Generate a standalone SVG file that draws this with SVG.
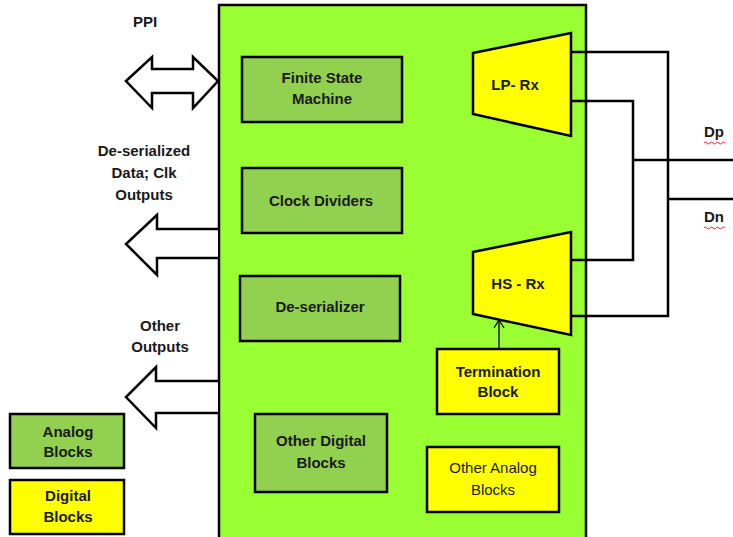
<svg xmlns="http://www.w3.org/2000/svg" width="733" height="537" viewBox="0 0 733 537">
<style>
text{font-family:"Liberation Sans",Arial,sans-serif;font-weight:bold;font-size:15px;fill:#1a1a1a;text-anchor:middle;dominant-baseline:middle}
.box{stroke:#000;stroke-width:2.5}
.an{fill:#92D050}
.dg{fill:#FFFF00}
.w{fill:none;stroke:#000;stroke-width:2.5}
.ar{fill:#fff;stroke:#000;stroke-width:2.5;stroke-linejoin:miter}
.sq{fill:none;stroke:#e03030;stroke-width:1}
</style>
<defs>
<marker id="ah" markerWidth="10" markerHeight="12" refX="9" refY="6" orient="auto" markerUnits="userSpaceOnUse" viewBox="0 0 10 12">
<path d="M1,1 L9,6 L1,11" fill="none" stroke="#000" stroke-width="1.3"/>
</marker>
</defs>
<rect width="733" height="537" fill="#fff"/>
<g id="chip"><rect class="box" x="219" y="5" width="367" height="545" fill="#99FF33"/></g>
<g id="connectors">
<path class="w" d="M571,52 H668 V316 H571"/>
<path class="w" d="M571,101 H633 V260 H571"/>
<path class="w" d="M633,160 H733"/>
<path class="w" d="M668,199 H733"/>
<line x1="499" y1="349" x2="499" y2="320" stroke="#000" stroke-width="1.3" marker-end="url(#ah)"/>
</g>
<g id="ppi">
<path class="ar" d="M126,81 L152,57 L152,69 L193,69 L193,57 L218,81 L193,108 L193,93 L152,93 L152,108 Z"/>
<text x="145" y="23">PPI</text>
</g>
<g id="deser-out">
<path class="ar" d="M218,229 L157,229 L157,215 L126,244 L157,275 L157,258 L218,258"/>
<text x="144" y="152">De-serialized</text>
<text x="144" y="174">Data; Clk</text>
<text x="144" y="196">Outputs</text>
</g>
<g id="other-out">
<path class="ar" d="M218,381 L156,381 L156,367 L126,397 L156,428 L156,413 L218,413"/>
<text x="160" y="327">Other</text>
<text x="160" y="348">Outputs</text>
</g>
<g id="fsm"><rect class="box an" x="242" y="57" width="160" height="65"/><text x="322" y="79">Finite State</text><text x="322" y="100">Machine</text></g>
<g id="clkdiv"><rect class="box an" x="242" y="168" width="160" height="65"/><text x="321" y="202">Clock Dividers</text></g>
<g id="deser"><rect class="box an" x="240" y="276" width="160" height="65"/><text x="320" y="308">De-serializer</text></g>
<g id="otherdig"><rect class="box an" x="255" y="414" width="132" height="78"/><text x="321" y="442">Other Digital</text><text x="321" y="464">Blocks</text></g>
<g id="lprx"><path class="box dg" d="M473,53 L571,33 L571,136 L473,114 Z"/><text x="515" y="86">LP- Rx</text></g>
<g id="hsrx"><path class="box dg" d="M473,252 L571,232 L571,335 L473,314 Z"/><text x="518" y="285">HS - Rx</text></g>
<g id="term"><rect class="box dg" x="437" y="349" width="122" height="65"/><text x="498" y="373">Termination</text><text x="498" y="393">Block</text></g>
<g id="otheranalog"><rect class="box dg" x="427" y="447" width="132" height="65"/><text x="493" y="469" style="font-weight:normal">Other Analog</text><text x="493" y="491" style="font-weight:normal">Blocks</text></g>
<g id="legend-analog"><rect class="box an" x="10" y="414" width="114" height="54"/><text x="68" y="433">Analog</text><text x="68" y="453">Blocks</text></g>
<g id="legend-digital"><rect class="box dg" x="10" y="480" width="114" height="54"/><text x="68" y="497">Digital</text><text x="68" y="518">Blocks</text></g>
<g id="dp"><text x="714" y="133">Dp</text><path class="sq" d="M704,143 q1.5,-2 3,0 t3,0 t3,0 t3,0 t3,0 t3,0 t3,0"/></g>
<g id="dn"><text x="714" y="218">Dn</text><path class="sq" d="M704,228 q1.5,-2 3,0 t3,0 t3,0 t3,0 t3,0 t3,0 t3,0"/></g>
</svg>
